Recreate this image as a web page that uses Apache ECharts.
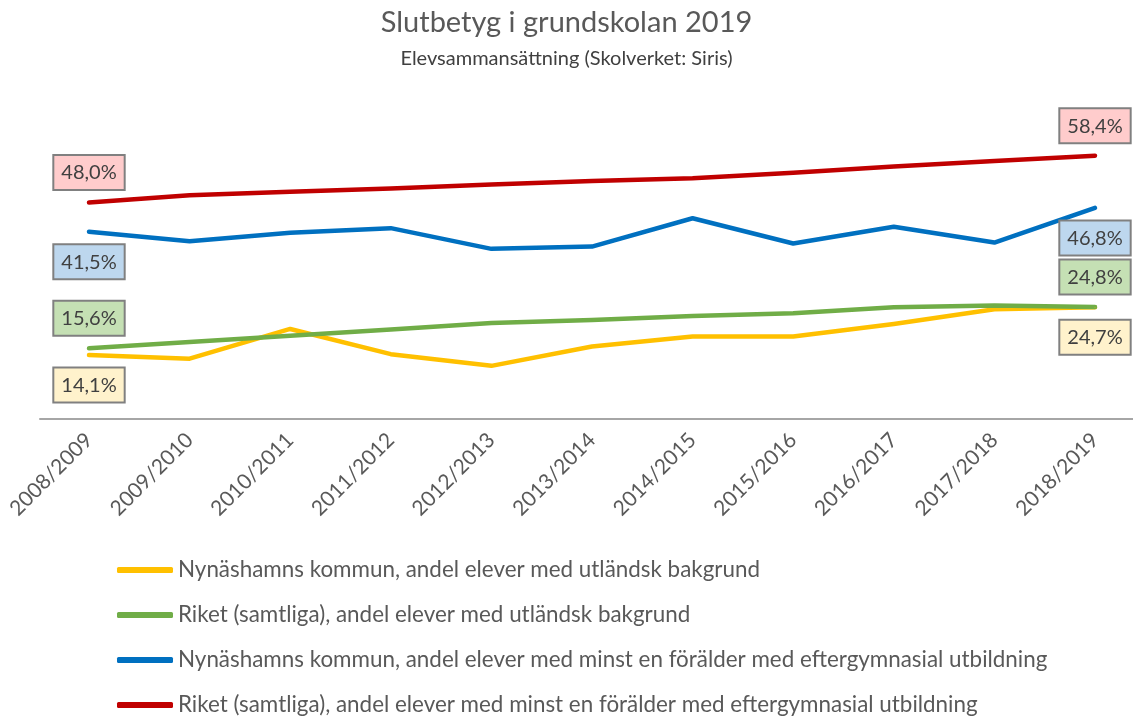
<!DOCTYPE html>
<html><head><meta charset="utf-8">
<script src="https://cdn.jsdelivr.net/npm/echarts@6/dist/echarts.min.js"></script>
<style>html,body{margin:0;padding:0;background:#fff}#c{width:1133px;height:717px}</style>
</head><body><div id="c"></div>
<script>
const categories = ['2008/2009','2009/2010','2010/2011','2011/2012','2012/2013','2013/2014','2014/2015','2015/2016','2016/2017','2017/2018','2018/2019'];
const seriesNames = [
  'Nynäshamns kommun, andel elever med utländsk bakgrund',
  'Riket (samtliga), andel elever med utländsk bakgrund',
  'Nynäshamns kommun, andel elever med minst en förälder med eftergymnasial utbildning',
  'Riket (samtliga), andel elever med minst en förälder med eftergymnasial utbildning'
];
const nynUtl = [14.1, 13.3, 19.9, 14.3, 11.7, 16.0, 18.2, 18.2, 21.0, 24.3, 24.7];
const rikUtl = [15.6, 17.0, 18.4, 19.8, 21.2, 21.9, 22.8, 23.4, 24.7, 25.1, 24.8];
const nynEft = [41.5, 39.4, 41.3, 42.3, 37.7, 38.2, 44.5, 38.9, 42.6, 39.1, 46.8];
const rikEft = [48.0, 49.6, 50.4, 51.1, 52.0, 52.8, 53.4, 54.6, 56.0, 57.2, 58.4];

const colors = ['#ffc000', '#70ad47', '#0070c0', '#c00000'];
const labelBg = ['#fff2cc', '#c5e0b4', '#bdd7ee', '#ffcccc'];
const labelPos = ['bottom', 'top', 'bottom', 'top'];
const allData = [nynUtl, rikUtl, nynEft, rikEft];

function fmt(v){ return v.toFixed(1).replace('.', ',') + '%'; }

const FONT = 'Lato, "Open Sans", sans-serif';

const series = allData.map((arr, si) => ({
  name: seriesNames[si],
  type: 'line',
  xAxisIndex: 1,
  yAxisIndex: 1,
  symbol: 'circle',
  symbolSize: 1,
  itemStyle: { color: colors[si] },
  lineStyle: { width: 4.5, color: colors[si], cap: 'round', join: 'round' },
  emphasis: { disabled: true },
  data: arr.map((v, i) => {
    const isEnd = (i === 0 || i === arr.length - 1);
    return {
      value: v,
      label: {
        show: isEnd,
        position: labelPos[si],
        distance: 13,
        formatter: p => fmt(p.value),
        fontFamily: FONT,
        fontSize: 20,
        lineHeight: 22,
        color: '#404040',
        backgroundColor: labelBg[si],
        borderColor: '#808080',
        borderWidth: 2,
        padding: [6, 7, 5, 7]
      }
    };
  })
}));

const chart = echarts.init(document.getElementById('c'));
chart.setOption({
  animation: false,
  backgroundColor: '#fff',
  title: {
    text: 'Slutbetyg i grundskolan 2019',
    subtext: 'Elevsammansättning (Skolverket: Siris)',
    left: 'center',
    top: 7,
    padding: 0,
    itemGap: 9,
    textStyle: { fontFamily: FONT, fontSize: 29, lineHeight: 32, fontWeight: 'normal', color: '#595959' },
    subtextStyle: { fontFamily: FONT, fontSize: 20, lineHeight: 22, color: '#404040' }
  },
  legend: {
    orient: 'vertical',
    left: 117,
    top: 559,
    padding: 0,
    itemWidth: 56,
    itemHeight: 6,
    itemGap: 23,
    icon: 'roundRect',
    textStyle: { fontFamily: FONT, fontSize: 22.4, color: '#595959', lineHeight: 22 },
    data: seriesNames
  },
  grid: [
    { left: 40, right: 0, top: 103.5, bottom: 298.5, containLabel: false },
    { left: 89, right: 38, top: 103.5, bottom: 298.5, containLabel: false }
  ],
  xAxis: [
    {
      gridIndex: 0,
      type: 'category',
      data: categories,
      axisLine: { lineStyle: { color: '#a6a6a6', width: 2 } },
      axisTick: { show: false },
      axisLabel: { show: false }
    },
    {
      gridIndex: 1,
      type: 'category',
      data: categories,
      boundaryGap: false,
      axisLine: { show: false },
      axisTick: { show: false },
      axisLabel: { interval: 0, rotate: 45, margin: 18, fontFamily: FONT, fontSize: 21, color: '#595959' }
    }
  ],
  yAxis: [
    { gridIndex: 0, type: 'value', min: 0, max: 70, show: false },
    { gridIndex: 1, type: 'value', min: 0, max: 70, show: false }
  ],
  series: series
});
</script></body></html>
